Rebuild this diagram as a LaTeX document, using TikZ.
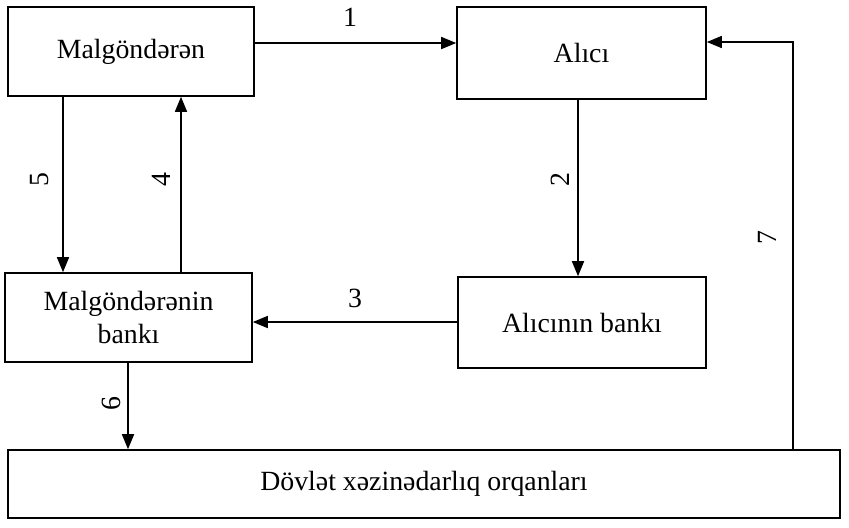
\documentclass[tikz,border=0pt]{standalone}
\usepackage{fontspec}
\setmainfont{Liberation Serif}
\usetikzlibrary{arrows.meta}
\begin{document}
\begin{tikzpicture}[x=0.5pt,y=-0.5pt,
  box/.style={draw, line width=0.8pt, inner sep=0pt, align=center,
    font=\fontsize{13.9}{16.5}\selectfont},
  arr/.style={line width=0.8pt, -{Triangle[length=7.5pt,width=6pt]}},
  num/.style={font=\fontsize{13.9}{16}\selectfont, inner sep=0pt},
  vnum/.style={num, rotate=90}]
\useasboundingbox (0,0) rectangle (849,527);
% boxes
\node[box, minimum width=123pt, minimum height=44.5pt] (A) at (131,51.5) {Malgöndərən};
\node[box, minimum width=124.5pt, minimum height=46pt] (B) at (581.5,53) {Alıcı};
\node[box, minimum width=123.5pt, minimum height=44.5pt] (C) at (128.5,317.5) {Malgöndərənin\\bankı};
\node[box, minimum width=124pt, minimum height=45.5pt] (D) at (582,322.5) {Alıcının bankı};
\node[box, minimum width=416pt, minimum height=34pt] (E) at (424,484) {Dövlət xəzinədarlıq orqanları};
% connectors
\draw[arr] (A.east |- 0,43) -- (B.west |- 0,43);
\draw[arr] (A.south -| 63,0) -- (C.north -| 63,0);
\draw[arr] (C.north -| 181,0) -- (A.south -| 181,0);
\draw[arr] (B.south -| 578,0) -- (D.north -| 578,0);
\draw[arr] (D.west |- 0,322) -- (C.east |- 0,322);
\draw[arr] (C.south -| 128,0) -- (E.north -| 128,0);
\coordinate (k) at (793,42);
\draw[arr] (E.north -| k) -- (k) -- (B.east |- k);
% labels
\node[num] (l1) at (350,17) {1};
\node[num] (l3) at (355,298) {3};
\node[vnum] (l5) at (40,180) {5};
\node[vnum] (l4) at (161,180) {4};
\node[vnum] (l2) at (560,180) {2};
\node[vnum] (l7) at (767,238) {7};
\node[vnum] (l6) at (111,404) {6};
\end{tikzpicture}
\end{document}
